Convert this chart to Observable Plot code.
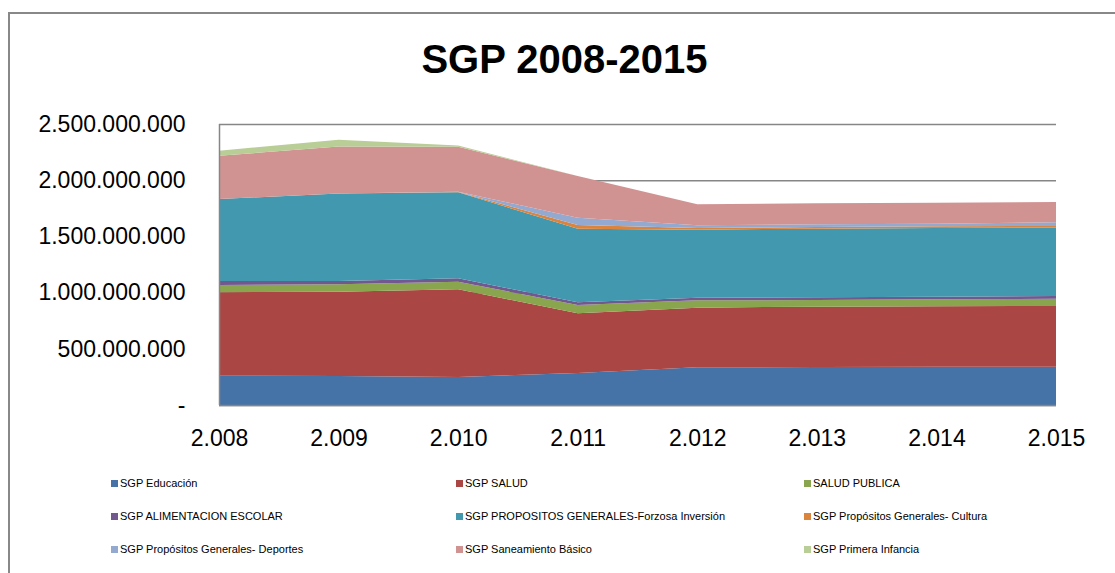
<!DOCTYPE html>
<html>
<head>
<meta charset="utf-8">
<script src="https://cdn.jsdelivr.net/npm/d3@7"></script>
<script src="https://cdn.jsdelivr.net/npm/@observablehq/plot@0.6"></script>
<style>
  html, body { margin: 0; padding: 0; background: #fff; overflow: hidden; }
  #wrap { position: relative; width: 1115px; height: 573px; overflow: hidden; font-family: "Liberation Sans", Arial, sans-serif; }
  #frame { position: absolute; left: 8px; top: 12px; width: 1120px; height: 580px; border-left: 2px solid #888; border-top: 2px solid #888; box-sizing: border-box; }
  #title { position: absolute; left: 0; width: 1129px; top: 37px; text-align: center; font-weight: bold; font-size: 40px; color: #000; }
  #chart { position: absolute; left: 0; top: 0; }
  .leg { position: absolute; font-size: 11px; color: #000; white-space: nowrap; line-height: 12px; }
  .leg span.sw { display: inline-block; width: 7px; height: 7px; margin-right: 2px; vertical-align: 0px; }
</style>
</head>
<body>
<div id="wrap">
  <div id="frame"></div>
  <div id="chart"></div>
  <div id="title">SGP 2008-2015</div>
  <div id="legend"></div>
</div>
<script>
const years = [2008, 2009, 2010, 2011, 2012, 2013, 2014, 2015];
const seriesNames = [
  "SGP Educación",
  "SGP SALUD",
  "SALUD PUBLICA",
  "SGP ALIMENTACION ESCOLAR",
  "SGP PROPOSITOS GENERALES-Forzosa Inversión",
  "SGP Propósitos Generales- Cultura",
  "SGP Propósitos Generales- Deportes",
  "SGP Saneamiento Básico",
  "SGP Primera Infancia"
];
const educacion     = [261e6, 258e6, 250e6, 285e6, 335e6, 338e6, 341e6, 341e6];
const salud         = [742e6, 750e6, 779e6, 531e6, 531e6, 537e6, 537e6, 540e6];
const saludPublica  = [65e6, 66e6, 68e6, 74e6, 65e6, 59e6, 62e6, 65e6];
const alimentacion  = [35e6, 30e6, 30e6, 24e6, 24e6, 24e6, 24e6, 24e6];
const pgForzosa     = [730e6, 777e6, 765e6, 655e6, 605e6, 611e6, 611e6, 607e6];
const pgCultura     = [0, 0, 3e6, 32e6, 15e6, 15e6, 15e6, 16e6];
const pgDeportes    = [0, 0, 3e6, 66e6, 24e6, 24e6, 23e6, 32e6];
const saneamiento   = [385e6, 418e6, 400e6, 370e6, 187e6, 187e6, 187e6, 181e6];
const primeraInfancia = [45e6, 60e6, 10e6, 0, 0, 0, 0, 0];
const colors = ["#4572A7", "#AA4643", "#89A54E", "#71588F", "#4198AF", "#DB843D", "#93A9CF", "#D19392", "#B9CD96"];
const yTicks = [0, 500e6, 1000e6, 1500e6, 2000e6, 2500e6];

const allSeries = [educacion, salud, saludPublica, alimentacion, pgForzosa, pgCultura, pgDeportes, saneamiento, primeraInfancia];
const data = [];
allSeries.forEach((vals, i) => {
  years.forEach((yr, j) => data.push({ year: yr, value: vals[j], serie: seriesNames[i] }));
});

const fmtNum = d => d === 0 ? "-" : d3.format(",")(d).replace(/,/g, ".");

const plot = Plot.plot({
  width: 1115,
  height: 573,
  marginLeft: 219,
  marginRight: 59,
  marginTop: 124,
  marginBottom: 168,
  style: { fontFamily: "'Liberation Sans', Arial, sans-serif", background: "transparent", overflow: "visible" },
  x: { type: "linear", domain: [2008, 2015], ticks: years, tickFormat: d => fmtNum(d), tickSize: 0, tickPadding: 24, label: null },
  y: { domain: [0, 2500e6], ticks: yTicks, tickFormat: fmtNum, tickSize: 0, tickPadding: 34, label: null },
  color: { domain: seriesNames, range: colors },
  marks: [
    Plot.ruleY(yTicks, { stroke: "#868686", strokeWidth: 1.5 }),
    Plot.areaY(data, { x: "year", y: "value", fill: "serie", z: "serie", order: seriesNames }),
    Plot.ruleX([2008], { stroke: "#868686", strokeWidth: 1.5 }),
    Plot.ruleY([0], { stroke: "#868686", strokeWidth: 1.5 })
  ]
});
plot.querySelectorAll("g[aria-label='y-axis tick label'], g[aria-label='x-axis tick label']").forEach(g => {
  g.setAttribute("font-size", "23");
  g.setAttribute("fill", "#000");
});
document.getElementById("chart").appendChild(plot);

// legend
const legCols = [111, 456, 804];
const legRows = [477, 510, 543];
const leg = document.getElementById("legend");
seriesNames.forEach((name, i) => {
  const d = document.createElement("div");
  d.className = "leg";
  d.style.left = legCols[i % 3] + "px";
  d.style.top = legRows[Math.floor(i / 3)] + "px";
  d.innerHTML = `<span class="sw" style="background:${colors[i]}"></span>${name}`;
  leg.appendChild(d);
});
</script>
</body>
</html>
